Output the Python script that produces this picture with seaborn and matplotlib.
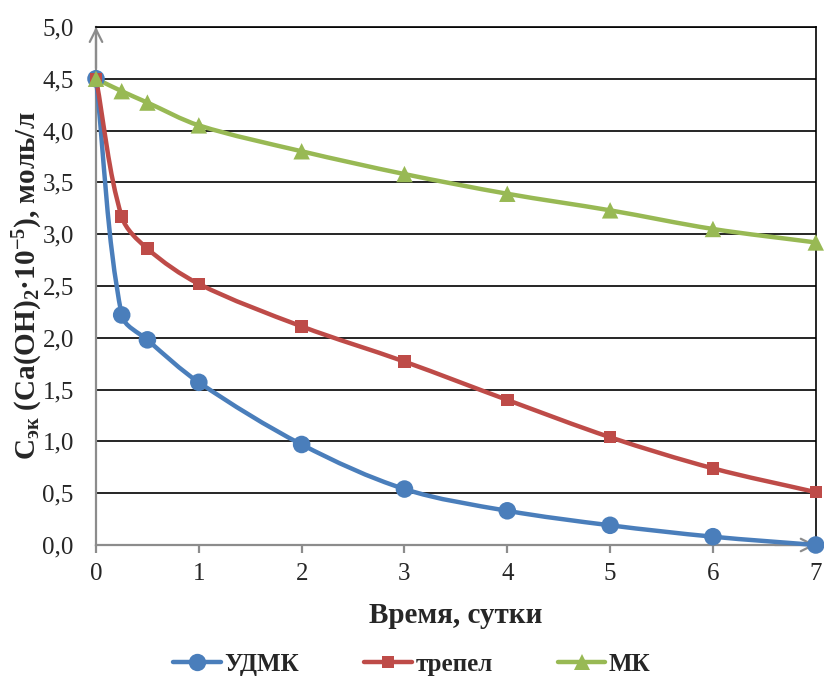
import numpy as np
import pandas as pd
import matplotlib
matplotlib.use("Agg")
import matplotlib.pyplot as plt
from matplotlib.path import Path
from matplotlib.patches import PathPatch
from matplotlib.lines import Line2D
from matplotlib.ticker import FuncFormatter, MultipleLocator
import seaborn as sns

# Data: time (days) and concentration of Ca(OH)2, x10^-5 mol/l
days = [0, 0.25, 0.5, 1, 2, 3, 4, 5, 6, 7]
udmk = [4.50, 2.22, 1.98, 1.57, 0.97, 0.54, 0.33, 0.19, 0.08, 0.0]
trepel = [4.50, 3.17, 2.86, 2.52, 2.11, 1.77, 1.40, 1.04, 0.74, 0.51]
mk = [4.50, 4.38, 4.27, 4.05, 3.80, 3.58, 3.39, 3.23, 3.05, 2.92]
series_names = ["УДМК", "трепел", "МК"]
colors = ["#4A7EBB", "#BE4B48", "#98B954"]
markers = ["o", "s", "^"]
marker_sizes = [160, 80, 140]

sns.set_style("white")
plt.rcParams["font.family"] = ["Liberation Serif", "DejaVu Serif"]
plt.rcParams["mathtext.fontset"] = "custom"
plt.rcParams["mathtext.rm"] = "Liberation Serif:bold"
plt.rcParams["mathtext.bf"] = "Liberation Serif:bold"
plt.rcParams["mathtext.it"] = "Liberation Serif:bold"
plt.rcParams["mathtext.default"] = "bf"

df = pd.concat(
    [pd.DataFrame({"t": days, "c": vals, "s": name})
     for name, vals in zip(series_names, [udmk, trepel, mk])],
    ignore_index=True,
)

fig = plt.figure(figsize=(8.24, 6.91), dpi=100)
ax = fig.add_axes([0.1165, 0.2113, 0.8735, 0.7497])


def smooth_path(xs, ys, k=0.33):
    """Cubic Bezier path through the points; tangents follow the neighbouring
    points, control arms are limited to a third of each segment length."""
    pts = np.column_stack([xs, ys]).astype(float)
    n = len(pts)
    dirs = []
    for i in range(n):
        a = pts[max(i - 1, 0)]
        b = pts[min(i + 1, n - 1)]
        d = b - a
        dirs.append(d / np.hypot(*d))
    verts = [pts[0]]
    codes = [Path.MOVETO]
    for i in range(n - 1):
        p1, p2 = pts[i], pts[i + 1]
        seg = np.hypot(*(p2 - p1)) * k
        verts += [p1 + dirs[i] * seg, p2 - dirs[i + 1] * seg, p2]
        codes += [Path.CURVE4] * 3
    return Path(verts, codes)


ax.set_xlim(0, 7)
ax.set_ylim(0, 5)
ax.yaxis.set_major_locator(MultipleLocator(0.5))
ax.xaxis.set_major_locator(MultipleLocator(1))
ax.grid(axis="y", color="black", linewidth=1.2, zorder=0)
ax.grid(axis="x", visible=False)

for name, vals, col in zip(series_names, [udmk, trepel, mk], colors):
    patch = PathPatch(smooth_path(days, vals), facecolor="none", edgecolor=col,
                      linewidth=3.2, zorder=3, clip_on=False,
                      capstyle="round", joinstyle="round")
    ax.add_patch(patch)

sns.scatterplot(data=df, x="t", y="c", hue="s", style="s", size="s",
                palette=dict(zip(series_names, colors)),
                markers=dict(zip(series_names, markers)),
                sizes=dict(zip(series_names, marker_sizes)),
                linewidth=0, legend=False, ax=ax, zorder=4, clip_on=False)

# Spines: gray axes with arrowheads, black frame on top and right
for side in ["top", "right"]:
    ax.spines[side].set_color("black")
    ax.spines[side].set_linewidth(1.2)
for side in ["left", "bottom"]:
    ax.spines[side].set_color("#8C8C8C")
    ax.spines[side].set_linewidth(1.6)
    ax.spines[side].set_zorder(2)

arrow_kw = dict(arrowstyle="->,head_length=0.9,head_width=0.45",
                color="#8C8C8C", lw=1.6, shrinkA=0, shrinkB=0)
ax.annotate("", xy=(0, 5), xytext=(0, 4.6), arrowprops=arrow_kw,
            annotation_clip=False, zorder=2)
ax.annotate("", xy=(7, 0), xytext=(6.6, 0), arrowprops=arrow_kw,
            annotation_clip=False, zorder=2)

ax.yaxis.set_major_formatter(FuncFormatter(lambda v, p: f"{v:.1f}".replace(".", ",")))
ax.tick_params(axis="y", length=0, pad=16, labelsize=18)
ax.tick_params(axis="x", length=6, width=1.6, color="#8C8C8C", direction="out",
               pad=7, labelsize=18, bottom=True)

ax.set_xlabel("Время, сутки", fontsize=21, fontweight="bold", labelpad=12)
ax.set_ylabel(r"С$_{эк}$ (Ca(OH)$_{2}$·10$^{-5}$), моль/л",
              fontsize=21, fontweight="bold", va="center")
ax.yaxis.set_label_coords(-0.094, 0.5)

handles = [Line2D([0], [0], color=c, lw=3.2, marker=m, markersize=ms,
                  markeredgewidth=0)
           for c, m, ms in zip(colors, markers, [12.5, 9, 12])]
fig.legend(handles, series_names, loc="center", bbox_to_anchor=(0.500, 0.039),
           ncol=3, frameon=False, handlelength=1.9, handletextpad=0.15,
           columnspacing=2.6, prop={"family": "Liberation Serif",
                                    "weight": "bold", "size": 18})

fig.savefig("out.png", dpi=100)
